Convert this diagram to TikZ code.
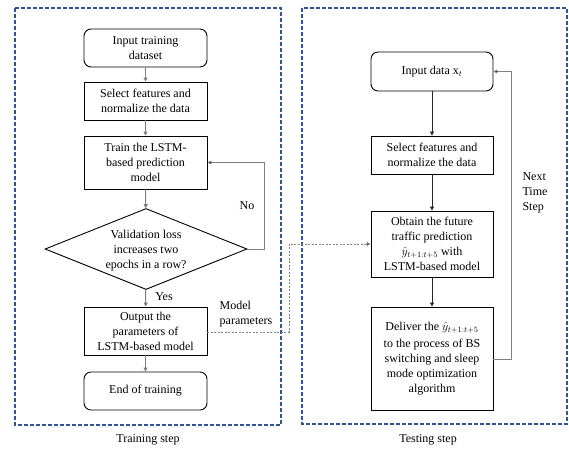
\documentclass[tikz,border=0pt]{standalone}
\usepackage{fontspec}
\setmainfont{Liberation Serif}
\usetikzlibrary{arrows.meta,shapes.geometric}
\definecolor{frameblue}{RGB}{47,85,151}
\definecolor{linegray}{RGB}{128,128,128}
\tikzset{
  frame/.style={draw=frameblue,line width=1.3pt,dash pattern=on 4pt off 2pt},
  procbox/.style={draw=black,line width=0.9pt,align=center,inner sep=1pt,font=\fontsize{12}{15}\selectfont,minimum width=123pt},
  termbox/.style={procbox,rounded corners=7pt},
  lbl/.style={font=\fontsize{12}{15}\selectfont,align=center,inner sep=0pt},
  grayarrow/.style={draw=linegray,line width=1pt,-{Triangle[length=4pt,width=4pt,fill=black]}},
  darkarrow/.style={draw=black!85,line width=0.6pt,-{Triangle[length=4pt,width=4pt]}},
  looparrow/.style={draw=linegray,line width=0.8pt,-{Triangle[length=4pt,width=4pt,fill=black]}},
  dasharrow/.style={draw=linegray,line width=0.8pt,dash pattern=on 2pt off 1.5pt,-{Triangle[length=4pt,width=4pt,fill=black]}}
}
\begin{document}
\begin{tikzpicture}[x=1pt,y=-1pt]
\useasboundingbox (0,0) rectangle (569,451);
% frames
\draw[frame] (15,8) rectangle (281,425);
\draw[frame] (302,8) rectangle (567,424);
\node[lbl] (trainlbl) at (148,440) {Training step};
\node[lbl] (testlbl) at (428,440) {Testing step};
% left column
\node[termbox,minimum height=38pt] (in1) at (145.5,48) {Input training\\dataset};
\node[procbox,minimum height=38pt] (sel1) at (145.5,101) {Select features and\\normalize the data};
\node[procbox,minimum height=53pt] (train) at (145.5,162.5) {Train the LSTM-\\based prediction\\model};
\node[draw=black,line width=0.9pt,diamond,minimum width=202pt,minimum height=81pt,inner sep=0pt] (val) at (146,249) {};
\node[lbl] (valtxt) at (146,251) {Validation loss\\increases two\\epochs in a row?};
\node[procbox,minimum height=48pt] (out) at (145.5,331) {Output the\\parameters of\\LSTM-based model};
\node[termbox,minimum height=38pt] (end) at (145.5,391) {End of training};
\draw[grayarrow] (in1) -- (sel1);
\draw[grayarrow] (sel1) -- (train);
\draw[grayarrow] (train) -- (val);
\draw[grayarrow] (val) -- (out);
\draw[grayarrow] (out) -- (end);
\coordinate (nocorner) at (264,249);
\draw[looparrow] (val.east) -- (nocorner) |- (train.east);
\node[lbl] (no) at (247,206) {No};
\node[lbl] (yes) at (164,297) {Yes};
\node[lbl,align=left] (mp) at (246,314) {Model\\parameters};
% right column
\node[termbox,minimum height=39pt,minimum width=122pt] (in2) at (432,71.5) {Input data x$_{t}$};
\node[procbox,minimum height=38pt,minimum width=122pt] (sel2) at (432,155) {Select features and\\normalize the data};
\node[procbox,minimum height=66pt,minimum width=122pt] (obt) at (432,244) {Obtain the future\\traffic prediction\\$\hat{y}_{t+1:t+5}$ with\\LSTM-based model};
\node[procbox,minimum height=103pt,minimum width=122pt] (del) at (432,358.5) {Deliver the $\hat{y}_{t+1:t+5}$\\[1.5pt]to the process of BS\\switching and sleep\\mode optimization\\algorithm};
\draw[darkarrow] (in2) -- (sel2);
\draw[darkarrow] (sel2) -- (obt);
\draw[darkarrow] (obt) -- (del);
\coordinate (ntcorner) at (511,359);
\coordinate (ntend) at (511,71.5);
\draw[looparrow] (del.east |- ntcorner) -- (ntcorner) -- (ntend) -- (in2.east);
\node[lbl,align=left] (nts) at (535,193) {Next\\Time\\Step};
% model parameters dashed connector
\coordinate (mpa) at (289,332);
\coordinate (mpb) at (289,244);
\draw[dasharrow] (out.east |- mpa) -- (mpa) -- (mpb) -- (obt.west);
\end{tikzpicture}
\end{document}
